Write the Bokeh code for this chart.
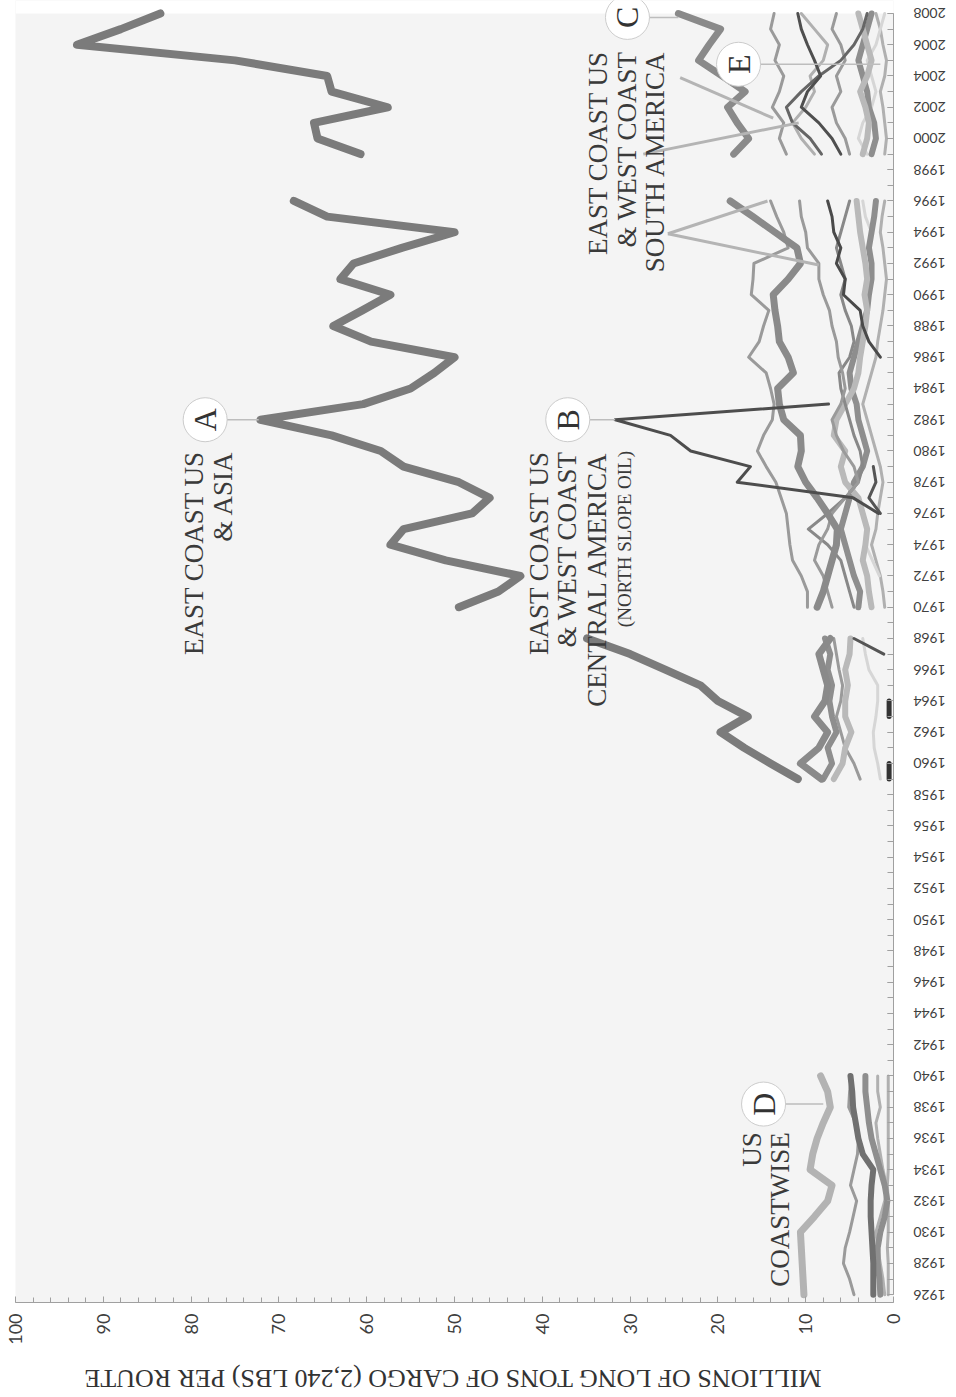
from math import pi
import numpy as np
from bokeh.plotting import figure
from bokeh.layouts import column, row
from bokeh.models import Range1d, SingleIntervalTicker, ColumnDataSource, BoxAnnotation
from bokeh.core.properties import value
from bokeh.embed import file_html
from bokeh.resources import INLINE

nan = float("nan")

# ---------------- data (millions of long tons per route) ----------------
years_1926 = list(range(1926, 1941))
years_1959 = list(range(1959, 1969))
years_1970 = list(range(1970, 1997))
years_1999 = list(range(1999, 2009))
year_tick_labels = [str(y) for y in range(1926, 2009, 2)]

# A: East Coast US & Asia
asia_1959 = [10.9, 14.0, 17.0, 19.7, 16.6, 20.0, 22.0, 26.0, 30.0, 34.9]
asia_1970 = [49.5, 45.0, 42.5, 51.0, 57.3, 55.8, 48.0, 46.0, 49.5, 55.8, 58.4, 64.0, 72.1, 60.4,
             55.0, 52.3, 50.0, 59.5, 63.8, 60.5, 57.3, 63.0, 61.5, 56.0, 50.0, 64.5, 68.3]
asia_1999 = [60.7, 65.6, 66.0, 57.6, 64.0, 64.5, 75.0, 93.0, 88.0, 83.5]

# B: East Coast US & West Coast Central America (North slope oil)
cam_1970 = [nan, nan, nan, nan, nan, nan, 1.7, 4.6, 17.8, 16.3, 23.1, 25.4, 31.7, 7.4,
            nan, nan, nan, nan, nan, nan, nan, nan, nan, nan, nan, nan, nan]

# C: East Coast US & West Coast South America
sam_1959 = [8.2, 10.6, 8.5, 7.5, 9.0, 7.8, 7.5, 8.0, 8.5, 7.2]
sam_1970 = [8.7, 8.0, 7.5, 7.0, 6.5, 6.4, 7.5, 8.7, 10.0, 10.9, 10.5, 10.6, 12.5, 13.0,
            13.2, 11.4, 12.0, 13.0, 13.2, 13.5, 13.7, 12.0, 10.6, 11.0, 13.5, 16.0, 18.6]
sam_1999 = [18.2, 16.5, 17.8, 18.9, 16.9, 19.5, 22.2, 21.0, 19.7, 24.5]

# D: US coastwise
coast_1926 = [10.2, 10.3, 10.4, 10.5, 10.6, 9.0, 7.5, 7.0, 9.5, 9.2, 8.7, 8.0, 7.2, 7.5, 8.3]

# other routes, 1926-1940
r1_1926 = [2.3, 2.3, 2.3, 2.4, 2.5, 2.6, 2.6, 2.5, 2.3, 3.5, 4.0, 4.3, 4.6, 4.7, 4.9]
r2_1926 = [1.5, 1.6, 1.8, 1.8, 1.5, 1.0, 0.7, 1.0, 1.5, 2.0, 2.5, 2.8, 3.0, 3.2, 3.2]
r3_1926 = [4.5, 5.0, 5.7, 5.5, 5.0, 4.6, 4.2, 4.9, 4.5, 4.1, 4.0, 4.3, 5.1, 5.0, 4.8]
r4_1926 = [0.6, 0.6, 0.6, 0.7, 0.6, 0.6, 0.6, 0.7, 0.6, 0.6, 0.6, 0.6, 0.6, 0.6, 0.6]
r5_1926 = [1.0, 1.2, 1.5, 1.8, 2.0, 1.5, 1.0, 0.8, 1.2, 1.5, 1.8, 2.0, 1.5, 1.8, 1.8]

# other routes, 1959-1968
r1_1959 = [6.8, 5.8, 5.5, 4.8, 5.5, 5.5, 5.2, 5.5, 5.0, 4.9]
r2_1959 = [8.0, 7.0, 7.5, 6.5, 7.0, 7.3, 7.0, 7.5, 7.2, 7.8]
r3_1959 = [3.8, 4.5, 5.5, 6.0, 6.5, 6.0, 5.8, 6.2, 6.5, 6.8]
r4_1959 = [1.5, 1.8, 2.2, 2.3, 2.0, 1.8, 1.8, 2.8, 3.2, 3.5]
r5_1959 = [nan, nan, nan, nan, nan, nan, nan, nan, 1.1, 4.5]
r6_1959 = [0.5, 0.5, nan, nan, 0.5, 0.5, nan, nan, nan, nan]

# other routes, 1970-1996
r1_1970 = [9.8, 9.8, 10.5, 11.5, 11.8, 12.0, 12.2, 12.8, 13.4, 14.5, 15.5, 14.8, 13.8, 13.6,
           14.0, 14.5, 16.5, 15.3, 14.8, 14.2, 16.2, 16.0, 15.9, 12.0, 12.5, 13.3, 14.0]
r2_1970 = [7.0, 7.5, 8.0, 9.0, 8.5, 7.5, 7.0, 5.5, 4.0, 4.5, 5.7, 6.5, 7.0, 6.0,
           5.5, 5.8, 6.3, 6.5, 7.0, 7.3, 8.0, 8.5, 8.5, 9.8, 10.0, 10.5, 10.7]
r3_1970 = [2.5, 2.8, 3.0, 3.5, 3.2, 3.0, 3.5, 4.0, 5.5, 6.0, 5.5, 6.8, 6.5, 5.5,
           4.5, 4.0, 3.8, 3.5, 3.2, 3.0, 3.3, 3.0, 3.2, 3.5, 3.8, 4.0, 4.2]
r4_1970 = [4.0, 3.8, 4.5, 5.0, 5.5, 6.0, 5.5, 5.0, 4.5, 3.5, 3.0, 3.5, 4.0, 4.2,
           4.8, 5.0, 4.5, 4.0, 3.5, 3.0, 2.8, 2.5, 2.5, 2.8, 2.5, 2.2, 2.0]
r5_1970 = [4.5, 5.0, 5.5, 6.0, 7.5, 9.7, 7.5, 5.5, 4.0, 3.5, 3.8, 4.5, 5.0, 5.5,
           6.0, 6.2, 5.0, 4.5, 4.8, 5.5, 6.0, 5.5, 6.0, 6.5, 6.0, 5.5, 5.0]
r6_1970 = [nan, nan, nan, nan, nan, nan, nan, nan, nan, nan, nan, nan, nan, nan,
           nan, nan, 1.5, 2.8, 3.5, 3.8, 5.7, 5.5, 6.5, 6.0, 6.8, 7.0, 7.5]
r7_1970 = [1.0, 1.2, 1.5, 2.0, 2.5, 2.0, 1.8, 1.5, 1.2, 1.5, 2.0, 2.5, 3.0, 3.5,
           3.0, 2.5, 2.0, 1.8, 1.5, 1.2, 1.0, 0.8, 1.0, 1.2, 1.5, 1.3, 1.0]
r8_1970 = [nan, nan, 1.6, 2.4, 3.2, nan, nan, nan, nan, nan, nan, nan, nan, nan,
           nan, nan, nan, nan, nan, nan, nan, nan, nan, nan, 2.5, 3.2, 3.5]
r9_1970 = [nan, nan, nan, nan, nan, nan, 1.5, 2.8, 2.0, 2.3, nan, nan, nan, nan,
           nan, nan, nan, nan, nan, nan, nan, nan, nan, nan, nan, nan, nan]

# other routes, 1999-2008
r1_1999 = [12.2, 13.0, 12.5, 13.8, 13.0, 12.5, 13.5, 13.0, 14.0, 13.6]
r2_1999 = [9.0, 10.5, 11.5, 10.0, 9.0, 9.5, 8.0, 7.5, 9.0, 10.5]
r3_1999 = [6.0, 7.0, 8.5, 10.5, 9.8, 8.3, 9.0, 9.8, 10.5, 10.9]
r4_1999 = [8.2, 9.5, 11.5, 12.2, 10.5, 8.5, 6.0, 4.5, 3.5, 3.0]
r5_1999 = [5.0, 5.5, 6.5, 7.0, 6.0, 6.5, 5.5, 6.0, 7.0, 6.5]
r6_1999 = [3.5, 3.0, 2.8, 3.2, 3.8, 3.0, 2.5, 3.0, 3.5, 4.0]
r7_1999 = [2.5, 2.0, 2.2, 2.8, 3.0, 3.5, 4.0, 3.5, 3.0, 2.5]
r8_1999 = [3.0, 4.0, 3.5, 2.5, 2.0, 2.5, 3.0, 2.0, 1.5, 1.0]
r9_1999 = [1.0, 0.8, 1.0, 1.2, 1.5, 1.0, 0.8, 1.2, 1.5, 2.0]

# annotation markers
marker_letters = ["A", "B", "C", "D", "E"]
marker_x = [78.4, 37.1, 30.3, 14.8, 17.65]
marker_y = [1982.0, 1982.0, 2007.75, 1938.2, 2004.75]
marker_end_x = [72.3, 31.7, 24.5, 8.0, 1.5]

axis_title = "MILLIONS OF LONG TONS OF CARGO (2,240 LBS) PER ROUTE"

# ---------------- geometry ----------------
PX_YEAR = 15.63
Y_LO = 1925.5
Y_HI = 2008 + 13 / PX_YEAR
X0, X1 = 100, 0
LEFT, FRAME_W, RIGHT = 15, 878, 10
TOP, BOTTOM = 0, 46
FRAME_H = int(round((Y_HI - Y_LO) * PX_YEAR))
YEARS_W = 51
TITLE_H = 47
px_per_unit = FRAME_W / (X0 - X1)
main_w = LEFT + FRAME_W + RIGHT
main_h = TOP + FRAME_H + BOTTOM

# ---------------- main figure ----------------
p = figure(width=main_w, height=main_h,
           x_range=Range1d(X0, X1), y_range=Range1d(Y_LO, Y_HI),
           y_axis_location="right",
           output_backend="svg", toolbar_location=None,
           min_border_left=LEFT, min_border_right=RIGHT,
           min_border_top=TOP, min_border_bottom=BOTTOM,
           background_fill_color="#f4f4f4", border_fill_color="white",
           outline_line_color=None)
p.xgrid.visible = False
p.ygrid.visible = False
p.add_layout(BoxAnnotation(bottom=2008, fill_color="white", fill_alpha=1.0,
                           line_color=None, level="underlay"))

DARK_THICK = ("#707070", 6)
MED_THICK = ("#8e8e8e", 6)
LIGHT_THICK = ("#b9b9b9", 6)
THIN_MED = ("#9a9a9a", 3)
THIN_LIGHT = ("#b0b0b0", 3)
THIN_PALE = ("#d6d6d6", 3)
THIN_DARK = ("#555555", 3)

layers = [
    (years_1926, r4_1926, THIN_LIGHT), (years_1926, r5_1926, THIN_LIGHT),
    (years_1926, r3_1926, THIN_MED), (years_1926, r2_1926, MED_THICK),
    (years_1926, r1_1926, DARK_THICK), (years_1926, coast_1926, ("#b3b3b3", 7)),

    (years_1959, r4_1959, THIN_PALE), (years_1959, r3_1959, THIN_MED),
    (years_1959, r2_1959, MED_THICK), (years_1959, r1_1959, LIGHT_THICK),
    (years_1959, r5_1959, THIN_DARK), (years_1959, r6_1959, ("#333333", 5)),
    (years_1959, sam_1959, ("#8a8a8a", 7)),

    (years_1970, r7_1970, THIN_LIGHT), (years_1970, r8_1970, THIN_PALE),
    (years_1970, r4_1970, MED_THICK), (years_1970, r3_1970, LIGHT_THICK),
    (years_1970, r5_1970, ("#888888", 3)), (years_1970, r2_1970, THIN_MED),
    (years_1970, r1_1970, THIN_MED), (years_1970, r6_1970, ("#4a4a4a", 3)),
    (years_1970, r9_1970, THIN_DARK), (years_1970, sam_1970, ("#8a8a8a", 7)),

    (years_1999, r9_1999, THIN_LIGHT), (years_1999, r8_1999, THIN_PALE),
    (years_1999, r7_1999, MED_THICK), (years_1999, r6_1999, LIGHT_THICK),
    (years_1999, r5_1999, THIN_MED), (years_1999, r2_1999, THIN_LIGHT),
    (years_1999, r1_1999, THIN_MED), (years_1999, r4_1999, ("#666666", 3)),
    (years_1999, r3_1999, ("#4f4f4f", 3)), (years_1999, sam_1999, ("#8a8a8a", 7)),

    (years_1959, asia_1959, ("#7b7b7b", 8)), (years_1970, asia_1970, ("#7b7b7b", 8)),
    (years_1999, asia_1999, ("#7b7b7b", 8)),
    (years_1970, cam_1970, ("#4d4d4d", 3)),
]
for yrs, vals, (col, w) in layers:
    src = ColumnDataSource(dict(v=np.array(vals, dtype=float), yr=np.array(yrs, dtype=float)))
    p.line(x="v", y="yr", source=src, line_color=col, line_width=w,
           line_join="round", line_cap="round")

# leader lines for South America label
p.segment(x0=[25.7, 25.7, 24.3, 28.5], y0=[1993.9, 1993.9, 2003.9, 1999.0],
          x1=[14.35, 8.5, 13.7, 10.8], y1=[1996.0, 1991.9, 2001.3, 2001.0],
          line_color="#b4b4b4", line_width=3)

# marker leaders, circles and letters
p.segment(x0=marker_x, y0=marker_y, x1=marker_end_x, y1=marker_y,
          line_color="#bdbdbd", line_width=1.5)
p.scatter(x=marker_x, y=marker_y, size=44, fill_color="white",
          line_color="#cccccc", line_width=1)
p.text(x=marker_x, y=marker_y, text=marker_letters, angle=pi / 2,
       text_align="center", text_baseline="middle",
       text_font=value("Liberation Serif"), text_font_size="32px", text_color="#333333")

serif = value("Liberation Serif")
p.text(x=[79.7, 76.4], y=[1980.0, 1980.0], text=["EAST COAST US", "& ASIA"],
       angle=pi / 2, text_align="right", text_baseline="middle",
       text_font=serif, text_font_size="27px", text_color="#3a3a3a")
p.text(x=[40.4, 37.2, 33.8], y=[1980.0, 1980.0, 1980.0],
       text=["EAST COAST US", "& WEST COAST", "CENTRAL AMERICA"],
       angle=pi / 2, text_align="right", text_baseline="middle",
       text_font=serif, text_font_size="27px", text_color="#3a3a3a")
p.text(x=[30.6], y=[1980.0], text=["(NORTH SLOPE OIL)"],
       angle=pi / 2, text_align="right", text_baseline="middle",
       text_font=serif, text_font_size="19px", text_color="#3a3a3a")
p.text(x=[33.6, 30.4, 27.2], y=[2005.6, 2005.6, 2005.6],
       text=["EAST COAST US", "& WEST COAST", "SOUTH AMERICA"],
       angle=pi / 2, text_align="right", text_baseline="middle",
       text_font=serif, text_font_size="27px", text_color="#3a3a3a")
p.text(x=[16.1, 12.9], y=[1936.4, 1936.4], text=["US", "COASTWISE"],
       angle=pi / 2, text_align="right", text_baseline="middle",
       text_font=serif, text_font_size="27px", text_color="#3a3a3a")

# value axis (bottom)
xa = p.xaxis[0]
xa.ticker = SingleIntervalTicker(interval=10, num_minor_ticks=5)
xa.major_label_orientation = pi / 2
xa.major_label_text_font = "Lato"
xa.major_label_text_font_size = "18px"
xa.major_label_text_color = "#404040"
xa.major_label_standoff = 11
xa.axis_line_color = "#a0a0a0"
xa.major_tick_line_color = "#a0a0a0"
xa.minor_tick_line_color = "#a0a0a0"
xa.major_tick_in = 6
xa.major_tick_out = 0
xa.minor_tick_in = 5
xa.minor_tick_out = 0

# year axis (right) - ticks only; upside-down labels drawn in side panel
ya = p.yaxis[0]
ya.ticker = SingleIntervalTicker(interval=2, num_minor_ticks=2)
ya.bounds = (1926, 2008)
ya.major_label_text_font_size = "1px"
ya.major_label_text_alpha = 0
ya.major_label_standoff = 0
ya.axis_line_color = "#a0a0a0"
ya.major_tick_line_color = "#a0a0a0"
ya.minor_tick_line_color = "#a0a0a0"
ya.major_tick_in = 6
ya.major_tick_out = 0
ya.minor_tick_in = 6
ya.minor_tick_out = 0

# ---------------- year labels panel ----------------
p_years = figure(width=YEARS_W, height=main_h,
                 x_range=Range1d(0, YEARS_W), y_range=p.y_range,
                 output_backend="svg", toolbar_location=None,
                 min_border_left=0, min_border_right=0,
                 min_border_top=TOP, min_border_bottom=BOTTOM,
                 outline_line_color=None, background_fill_color="white",
                 border_fill_color="white")
p_years.axis.visible = False
p_years.grid.visible = False
label_years = [float(t) for t in year_tick_labels]
p_years.text(x=[26] * len(label_years), y=label_years, text=year_tick_labels,
             angle=pi, text_align="center", text_baseline="middle",
             text_font=value("Lato"), text_font_size="14px", text_color="#404040")

# ---------------- axis title panel ----------------
title_w = main_w + YEARS_W
p_title = figure(width=title_w, height=TITLE_H,
                 x_range=Range1d(X0 + LEFT / px_per_unit,
                                 X1 - (title_w - LEFT - FRAME_W) / px_per_unit),
                 y_range=Range1d(0, TITLE_H),
                 output_backend="svg", toolbar_location=None,
                 min_border_left=0, min_border_right=0, min_border_top=0, min_border_bottom=0,
                 outline_line_color=None, background_fill_color="white",
                 border_fill_color="white")
p_title.axis.visible = False
p_title.grid.visible = False
p_title.text(x=[50.2], y=[17], text=[axis_title], angle=pi,
             text_align="center", text_baseline="middle",
             text_font=value("Liberation Serif"), text_font_size="26px",
             text_color="#333333")

layout = column(row(p, p_years, spacing=0), p_title, spacing=0)
open("out.html", "w").write(file_html(layout, INLINE))
